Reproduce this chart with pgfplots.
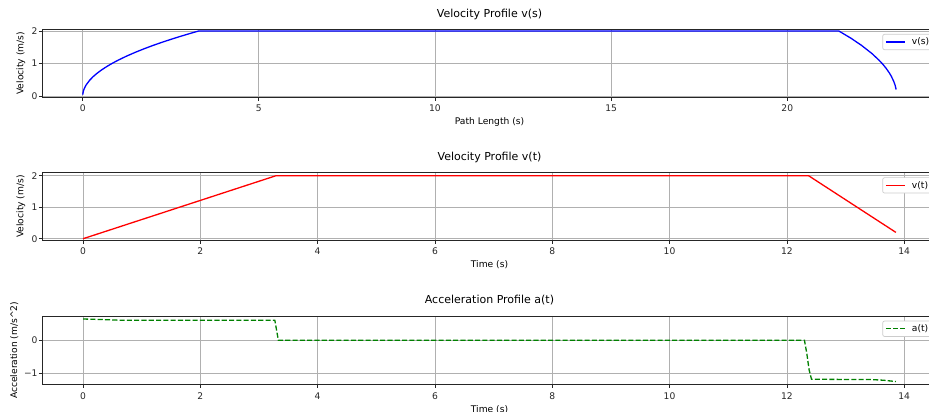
\documentclass[border=0pt]{standalone}
\usepackage{fontspec}
\setmainfont{DejaVu Sans}
\usepackage{pgfplots}
\pgfplotsset{compat=1.18}
\definecolor{gridgray}{HTML}{B0B0B0}
\definecolor{mplgreen}{HTML}{008000}
\definecolor{mplred}{HTML}{FF0000}
\definecolor{mplblue}{HTML}{0000FF}
\newcommand{\tfont}{\fontsize{9.15}{11}\selectfont}
\pgfplotsset{
 mpl/.style={
  scale only axis, width=895pt,
  axis line style={black!85, line width=0.75pt},
  grid=major, grid style={gridgray, line width=0.7pt},
  tick align=outside, major tick length=3.2pt,
  every tick/.style={black!85, line width=0.7pt},
  xtick pos=left, ytick pos=left,
  /pgf/number format/assume math mode=true,
  tick label style={font=\tfont, inner sep=0pt, text=black!85},
  xticklabel style={anchor=north, yshift=-4.5pt},
  yticklabel style={anchor=east, xshift=-1.1pt},
  title style={at={(axis description cs:0.5,1)}, anchor=base, yshift=6.3pt, inner sep=0pt, font=\fontsize{11}{13}\selectfont},
  xlabel style={at={(axis description cs:0.5,0)}, anchor=base, yshift=-27.5pt, inner sep=0pt, font=\tfont},
  ylabel style={at={(axis description cs:-0.0207,0.5)}, anchor=base, inner sep=0pt, font=\tfont},
  legend style={at={(0.9389,0.932)}, anchor=north west, draw=black!20, fill=white, rounded corners=2pt, line width=0.7pt, inner xsep=2.5pt, inner ysep=2pt, font=\tfont, nodes={inner sep=1.5pt}},
  legend cell align=left,
  legend image code/.code={\draw[#1, sharp corners] (0pt,0pt) -- (19pt,0pt); \path (24pt,0pt);},
 }
}
\begin{document}
\begin{tikzpicture}
\begin{axis}[mpl, at={(42pt,-29.3pt)}, anchor=north west, height=68pt,
  xmin=-1.155, xmax=24.25, ymin=-0.03, ymax=2.05,
  xtick={0,5,10,15,20}, ytick={0,1,2},
  title={Velocity Profile v(s)}, xlabel={Path Length (s)}, ylabel={Velocity (m/s)}]
\addlegendimage{mplblue, line width=1.3pt}
\addplot[mplblue, line width=1.3pt, forget plot] coordinates {
(0,0.05)(0.02,0.164)(0.05,0.251)(0.1,0.352)(0.2,0.495)(0.3,0.605)(0.4,0.698)(0.55,0.818)(0.7,0.922)(0.85,1.016)(1.0,1.102)(1.25,1.232)(1.5,1.349)(1.75,1.457)(2.0,1.558)(2.25,1.652)(2.5,1.741)(2.75,1.826)(3.0,1.907)(3.15,1.955)(3.3,2.0)
(21.46,2.0)(21.8,1.782)(22.1,1.564)(22.4,1.311)(22.6,1.110)(22.7,0.995)(22.8,0.865)(22.9,0.711)(22.95,0.619)(23.02,0.462)(23.06,0.342)(23.09,0.21)};
\legend{v(s)}
\end{axis}
\begin{axis}[mpl, at={(42pt,-172.7pt)}, anchor=north west, height=67.6pt,
  xmin=-0.70, xmax=14.56, ymin=-0.05, ymax=2.095,
  xtick={0,2,...,14}, ytick={0,1,2},
  title={Velocity Profile v(t)}, xlabel={Time (s)}, ylabel={Velocity (m/s)}]
\addlegendimage{mplred, line width=1.3pt}
\addplot[mplred, line width=1.3pt, forget plot] coordinates {(0,0)(3.29,2)(12.37,2)(13.86,0.2)};
\legend{v(t)}
\end{axis}
\begin{axis}[mpl, at={(42pt,-316pt)}, anchor=north west, height=68.7pt,
  xmin=-0.70, xmax=14.56, ymin=-1.345, ymax=0.736,
  xtick={0,2,...,14}, ytick={-1,0}, yticklabels={−1,0},
  ylabel style={at={(axis description cs:-0.0279,0.5)}},
  title={Acceleration Profile a(t)}, xlabel={Time (s)}, ylabel={Acceleration (m/s\textasciicircum 2)}]
\addlegendimage{mplgreen, line width=1.3pt, dash pattern=on 5.1pt off 2.2pt}
\addplot[mplgreen, line width=1.3pt, dash pattern=on 5.1pt off 2.2pt, forget plot] coordinates {
(0,0.645)(0.3,0.63)(0.65,0.607)(3.27,0.606)(3.33,0.0)(12.30,0)(12.34,-0.4)(12.38,-0.9)(12.42,-1.18)(13.45,-1.19)(13.65,-1.21)(13.86,-1.25)};
\legend{a(t)}
\end{axis}
\pgfresetboundingbox
\useasboundingbox (0,0) rectangle (929pt,-412pt);
\end{tikzpicture}
\end{document}
